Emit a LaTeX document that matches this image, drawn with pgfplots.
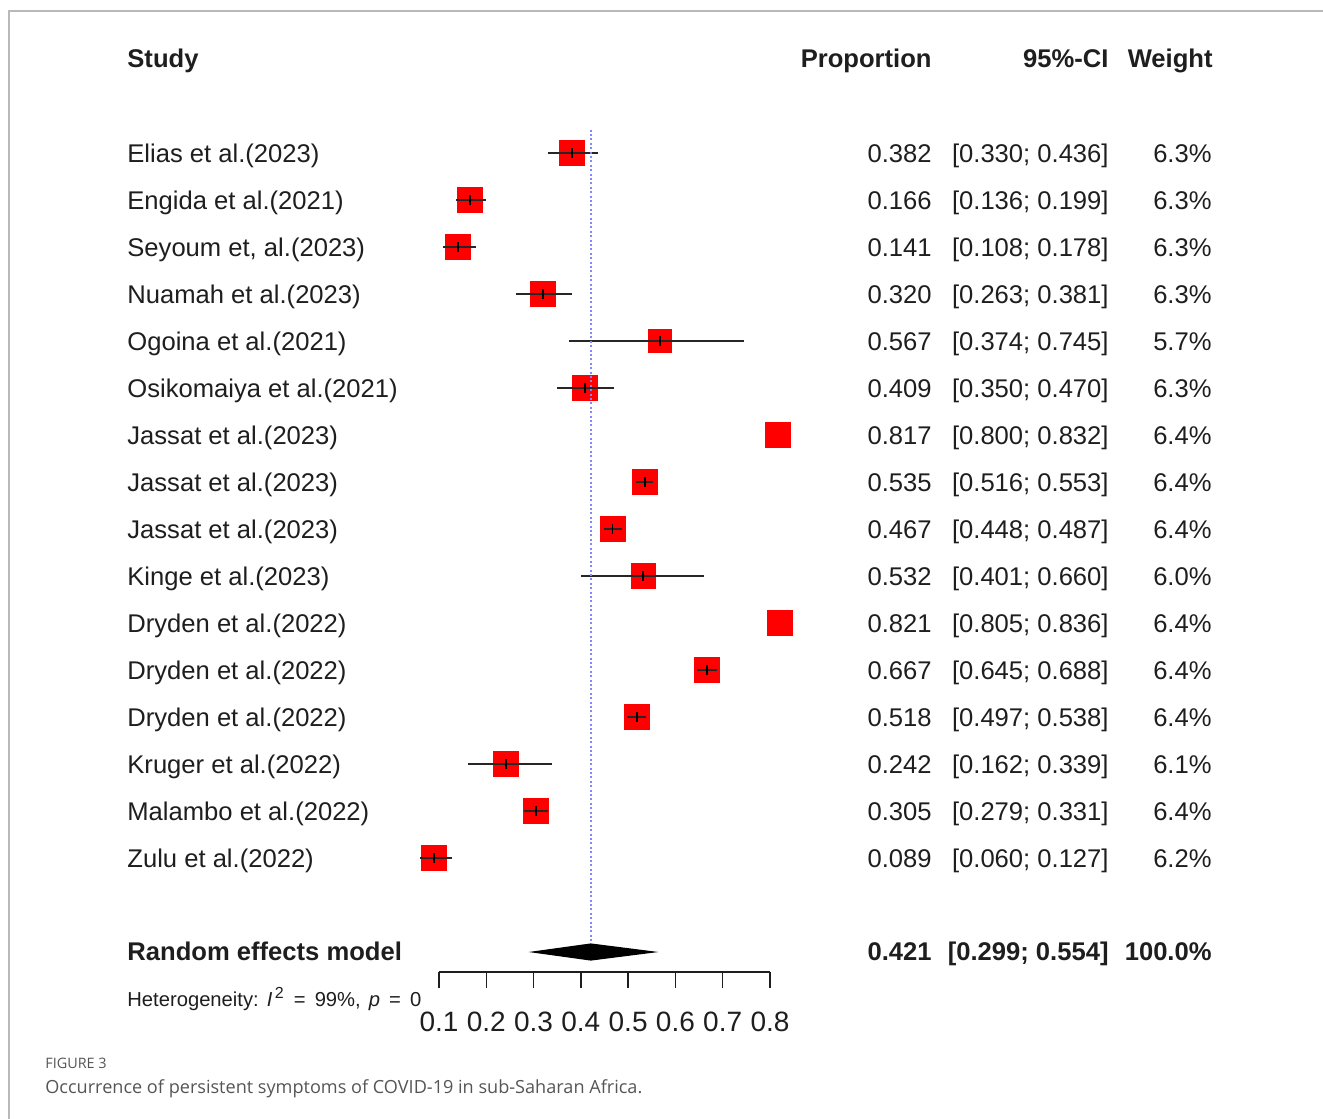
\documentclass[border=0pt]{standalone}
\usepackage{pgfplots}
\usepackage{pgfplotstable}
\pgfplotsset{compat=1.18}
\usepackage{fontspec}
\setmainfont{Liberation Sans}
\newfontfamily\capfont{Open Sans}
\definecolor{txt}{HTML}{1E1E1E}
\definecolor{dotblue}{HTML}{8585FF}
\definecolor{capgray}{HTML}{555555}

\pgfplotstableread{
row est lo hi w
-1 0.382 0.330 0.436 6.3
-2 0.166 0.136 0.199 6.3
-3 0.141 0.108 0.178 6.3
-4 0.320 0.263 0.381 6.3
-5 0.567 0.374 0.745 5.7
-6 0.409 0.350 0.470 6.3
-7 0.817 0.800 0.832 6.4
-8 0.535 0.516 0.553 6.4
-9 0.467 0.448 0.487 6.4
-10 0.532 0.401 0.660 6.0
-11 0.821 0.805 0.836 6.4
-12 0.667 0.645 0.688 6.4
-13 0.518 0.497 0.538 6.4
-14 0.242 0.162 0.339 6.1
-15 0.305 0.279 0.331 6.4
-16 0.089 0.060 0.127 6.2
}\studies

\begin{document}
\begin{tikzpicture}
\useasboundingbox (0,0) rectangle (661.5pt,-559.5pt);
\begin{axis}[
  at={(219.5pt,-486pt)}, anchor=south west,
  scale only axis, width=165.5pt, height=433pt,
  xmin=0.1, xmax=0.8, ymin=-18.4255, ymax=0,
  clip=false, clip mode=individual,
  axis x line*=bottom, axis y line=none,
  xtick={0.1,0.2,0.3,0.4,0.5,0.6,0.7,0.8},
  tick align=outside, major tick length=8pt,
  axis line style={line width=0.75pt, color=txt},
  tick style={line width=0.75pt, color=txt},
  xticklabel style={yshift=-8.5pt, /pgf/number format/.cd, fixed, fixed zerofill, precision=1, assume math mode=true},
  ticklabel style={font=\fontsize{14}{16}\selectfont, text=txt},
]
% study boxes
\addplot[scatter, only marks, mark=square*,
  point meta=\thisrow{w},
  visualization depends on={\thisrow{w}\as\wt},
  scatter/@pre marker code/.code={%
    \pgfmathsetmacro\ms{6.3*sqrt(\wt/6.4)}%
    \scope[mark size=\ms pt, draw=red, fill=red]},
  scatter/@post marker code/.code={\endscope}]
  table[x=est, y=row] {\studies};
% confidence intervals with estimate tick
\addplot[only marks, mark=|, mark size=2.6pt,
  mark options={line width=0.9pt, color=black},
  restrict x to domain=0:0.8,
  error bars/.cd, x dir=both, x explicit, error mark=none,
  error bar style={line width=1pt, color=black!85}]
  table[x=est, y=row,
        x error plus expr=\thisrow{hi}-\thisrow{est},
        x error minus expr=\thisrow{est}-\thisrow{lo}] {\studies};
% pooled estimate reference line
\addplot[color=dotblue, line width=1.1pt, dash pattern=on 1pt off 1.2pt]
  coordinates {(0.421,-0.5) (0.421,-17.8)};
% pooled diamond
\addplot[fill=black, draw=black, line width=0.6pt]
  coordinates {(0.299,-18) (0.421,-17.83) (0.554,-18) (0.421,-18.17)} --cycle;
\end{axis}

\begin{scope}[x=0.5pt, y=-0.5pt, every node/.style={inner sep=0pt, text=txt, font=\fontsize{12.8}{15}\selectfont}]
\draw[color=gray!55, line width=0.75pt] (9,1119) -- (9,11) -- (1323,11);
\node[anchor=base west] at (127,67) {\bfseries Study};
\node[anchor=base east] at (932,67) {\bfseries Proportion};
\node[anchor=base east] at (1109,67) {\bfseries 95\%-CI};
\node[anchor=base east] at (1213,67) {\bfseries Weight};
\foreach \k/\nm/\p/\ci/\w in {
 1/{Elias et al.(2023)}/0.382/{[0.330; 0.436]}/6.3,
 2/{Engida et al.(2021)}/0.166/{[0.136; 0.199]}/6.3,
 3/{Seyoum et, al.(2023)}/0.141/{[0.108; 0.178]}/6.3,
 4/{Nuamah et al.(2023)}/0.320/{[0.263; 0.381]}/6.3,
 5/{Ogoina et al.(2021)}/0.567/{[0.374; 0.745]}/5.7,
 6/{Osikomaiya et al.(2021)}/0.409/{[0.350; 0.470]}/6.3,
 7/{Jassat et al.(2023)}/0.817/{[0.800; 0.832]}/6.4,
 8/{Jassat et al.(2023)}/0.535/{[0.516; 0.553]}/6.4,
 9/{Jassat et al.(2023)}/0.467/{[0.448; 0.487]}/6.4,
 10/{Kinge et al.(2023)}/0.532/{[0.401; 0.660]}/6.0,
 11/{Dryden et al.(2022)}/0.821/{[0.805; 0.836]}/6.4,
 12/{Dryden et al.(2022)}/0.667/{[0.645; 0.688]}/6.4,
 13/{Dryden et al.(2022)}/0.518/{[0.497; 0.538]}/6.4,
 14/{Kruger et al.(2022)}/0.242/{[0.162; 0.339]}/6.1,
 15/{Malambo et al.(2022)}/0.305/{[0.279; 0.331]}/6.4,
 16/{Zulu et al.(2022)}/0.089/{[0.060; 0.127]}/6.2}{
  \node[anchor=base west] at (127,115+47*\k) {\nm};
  \node[anchor=base east] at (932,115+47*\k) {\p};
  \node[anchor=base east] at (1109,115+47*\k) {\ci};
  \node[anchor=base east] at (1212,115+47*\k) {\w\%};
}
\node[anchor=base west] at (127,960) {\bfseries Random effects model};
\node[anchor=base east] at (932,960) {\bfseries 0.421};
\node[anchor=base east] at (1109,960) {\bfseries [0.299; 0.554]};
\node[anchor=base east] at (1212,960) {\bfseries 100.0\%};
\node[anchor=base west, font=\fontsize{10.1}{11}\selectfont] at (127,1006) {Heterogeneity:\hspace{0.4em}\textit{I}\hspace{0.12em}\textsuperscript{\fontsize{8}{9}\selectfont 2}\hspace{0.45em}=\hspace{0.45em}99\%,\hspace{0.4em}\textit{p}\hspace{0.45em}=\hspace{0.45em}0};
\node[anchor=base west, text=capgray, font=\capfont\fontsize{7.2}{8}\selectfont] at (45,1068) {FIGURE 3};
\node[anchor=base west, text=capgray, font=\capfont\fontsize{9.05}{10}\selectfont] at (45,1093) {Occurrence of persistent symptoms of COVID-19 in sub-Saharan Africa.};
\end{scope}
\end{tikzpicture}
\end{document}
